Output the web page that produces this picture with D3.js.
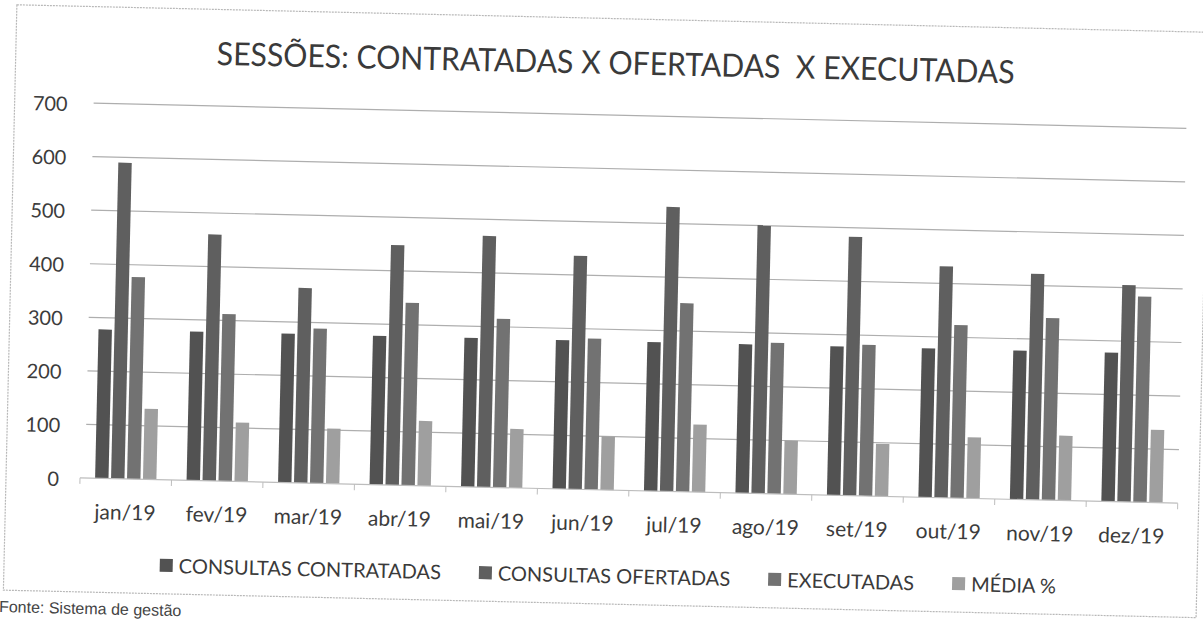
<!DOCTYPE html>
<html>
<head>
<meta charset="utf-8">
<script src="https://cdn.jsdelivr.net/npm/d3@7"></script>
<style>
  html, body { margin: 0; padding: 0; background: #fff; }
  svg { display: block; font-family: Lato, "Open Sans", sans-serif; }
</style>
</head>
<body>
<svg id="chart" width="1203" height="619"></svg>
<script>
// DATA
var months = ["jan/19", "fev/19", "mar/19", "abr/19", "mai/19", "jun/19",
              "jul/19", "ago/19", "set/19", "out/19", "nov/19", "dez/19"];
var contratadas = [278, 278, 278, 278, 278, 278, 278, 278, 278, 278, 278, 278];
var ofertadas   = [590, 460, 364, 448, 469, 436, 531, 501, 483, 432, 422, 405];
var executadas  = [377, 312, 289, 341, 315, 282, 352, 282, 282, 323, 340, 384];
var media       = [132, 110, 103, 121, 110, 100, 126, 100,  98, 114, 121, 136];
var seriesNames = ["CONSULTAS CONTRATADAS", "CONSULTAS OFERTADAS", "EXECUTADAS", "MÉDIA %"];
var yTicks = [0, 100, 200, 300, 400, 500, 600, 700];

var series = [contratadas, ofertadas, executadas, media];
var colors = ["#525252", "#5f5f5f", "#727272", "#9f9f9f"];

var svg = d3.select("#chart"),
    plotLeft = 80, plotRight = 1178, plotTop = 103, plotBottom = 478;

// the scanned page is tilted a little, so the whole chart is turned
var g = svg.append("g").attr("transform", "rotate(1.32,85," + plotBottom + ")");

// outer chart border
g.append("rect")
  .attr("x", 6).attr("y", 6.5)
  .attr("width", 1193).attr("height", 585.5)
  .attr("fill", "none")
  .attr("stroke", "#b8b8b8")
  .attr("stroke-width", 1.2)
  .attr("stroke-dasharray", "2,1");

var y = d3.scaleLinear().domain([0, 700]).range([plotBottom, plotTop]);

var x0 = d3.scaleBand()
    .domain(months)
    .range([plotLeft, plotRight])
    .paddingInner(0.33)
    .paddingOuter(0.165);

var x1 = d3.scaleBand()
    .domain(d3.range(series.length))
    .range([0, x0.bandwidth()])
    .paddingInner(0.16);

// gridlines
g.append("g")
  .selectAll("line")
  .data(yTicks.slice(1))
  .enter().append("line")
  .attr("x1", plotLeft + 5).attr("x2", plotRight)
  .attr("y1", d => y(d)).attr("y2", d => y(d))
  .attr("stroke", "#aeaeae")
  .attr("stroke-width", 1.2);

// y axis labels
var yAxis = g.append("g")
  .attr("transform", "translate(" + plotLeft + ",0)")
  .call(d3.axisLeft(y).tickValues(yTicks).tickSize(0).tickPadding(21))
  .attr("font-family", null)
  .attr("font-size", null);
yAxis.select(".domain").remove();
yAxis.selectAll("text")
  .attr("dy", "0.4em")
  .style("font-size", "20px")
  .style("fill", "#3c3c3c");

// bars
var groups = g.append("g")
  .selectAll("g")
  .data(months)
  .enter().append("g")
  .attr("transform", d => "translate(" + x0(d) + ",0)");

groups.selectAll("rect")
  .data((m, i) => series.map((s, k) => ({k: k, v: s[i]})))
  .enter().append("rect")
  .attr("x", d => x1(d.k))
  .attr("width", x1.bandwidth())
  .attr("y", d => y(d.v))
  .attr("height", d => y(0) - y(d.v))
  .attr("fill", d => colors[d.k]);

// category axis: baseline, boundary ticks, labels
var step = x0.step();
g.append("line")
  .attr("x1", plotLeft).attr("x2", plotRight)
  .attr("y1", plotBottom).attr("y2", plotBottom)
  .attr("stroke", "#bdbdbd")
  .attr("stroke-width", 1.2);

g.append("g")
  .selectAll("line")
  .data(d3.range(months.length + 1))
  .enter().append("line")
  .attr("x1", i => plotLeft + i * step).attr("x2", i => plotLeft + i * step)
  .attr("y1", plotBottom).attr("y2", plotBottom + 6)
  .attr("stroke", "#bdbdbd");

var xAxis = g.append("g")
  .attr("transform", "translate(0," + plotBottom + ")")
  .call(d3.axisBottom(x0).tickSize(0).tickPadding(26))
  .attr("font-family", null)
  .attr("font-size", null);
xAxis.select(".domain").remove();
xAxis.selectAll("text")
  .style("font-size", "21px")
  .style("fill", "#3c3c3c");

// title (note the double space kept from the original)
g.append("text")
  .attr("x", 606).attr("y", 62)
  .attr("text-anchor", "middle")
  .attr("textLength", 798)
  .attr("lengthAdjust", "spacingAndGlyphs")
  .style("white-space", "pre")
  .style("font-size", "32px")
  .style("fill", "#3a3a3a")
  .text("SESSÕES: CONTRATADAS X OFERTADAS  X EXECUTADAS");

// legend
var legend = g.append("g").attr("transform", "translate(0,564)");
var items = legend.selectAll("g")
  .data(seriesNames)
  .enter().append("g");

items.append("rect")
  .attr("width", 13).attr("height", 13)
  .attr("y", -7)
  .attr("fill", (d, i) => colors[i]);

items.append("text")
  .attr("x", 19)
  .attr("dy", "0.35em")
  .style("font-size", "20px")
  .style("fill", "#3a3a3a")
  .text(d => d);

// lay the items out one after the other, centred
var gap = 38, widths = [];
items.each(function () { widths.push(this.getBBox().width); });
var total = d3.sum(widths) + gap * (widths.length - 1),
    pos = 610 - total / 2;
items.attr("transform", function (d, i) {
  var t = "translate(" + pos + ",0)";
  pos += widths[i] + gap;
  return t;
});

// source line under the chart, at the page edge
g.append("text")
  .attr("x", 2).attr("y", 614)
  .style("font-family", "'Liberation Sans', Arial, sans-serif")
  .style("font-size", "16px")
  .style("fill", "#444")
  .text("Fonte: Sistema de gestão");
</script>
</body>
</html>
